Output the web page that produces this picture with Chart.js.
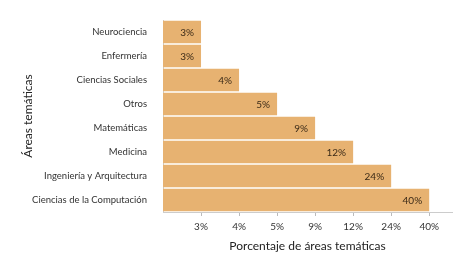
<!DOCTYPE html>
<html>
<head>
<meta charset="utf-8">
<script src="https://cdn.jsdelivr.net/npm/chart.js@4"></script>
<style>
  html, body { margin: 0; padding: 0; background: #fff; }
  #wrap { width: 472px; height: 264px; }
</style>
</head>
<body>
<div id="wrap"><canvas id="c" width="472" height="264"></canvas></div>
<script>
const categories = ['Neurociencia', 'Enfermería', 'Ciencias Sociales', 'Otros', 'Matemáticas', 'Medicina', 'Ingeniería y Arquitectura', 'Ciencias de la Computación'];
const percents = [3, 3, 4, 5, 9, 12, 24, 40];
// the x axis is ordinal: each tick is one step, whatever the percentage
const tickLabels = ['3%', '4%', '5%', '9%', '12%', '24%', '40%'];

const steps = percents.map(p => tickLabels.indexOf(p + '%') + 1);
const font = 'Lato, "Open Sans", sans-serif';

const barLabels = {
  id: 'barLabels',
  afterDatasetsDraw(chart) {
    const ctx = chart.ctx;
    const meta = chart.getDatasetMeta(0);
    ctx.save();
    ctx.font = '10px ' + font;
    ctx.fillStyle = '#3b2a17';
    ctx.textAlign = 'right';
    ctx.textBaseline = 'middle';
    meta.data.forEach((bar, i) => {
      ctx.fillText(percents[i] + '%', bar.x - 7, bar.y + 1);
    });
    ctx.restore();
  }
};

new Chart(document.getElementById('c'), {
  type: 'bar',
  data: {
    labels: categories,
    datasets: [{
      data: steps,
      backgroundColor: '#e7b271',
      borderWidth: 0,
      barPercentage: 0.94,
      categoryPercentage: 1,
    }],
  },
  options: {
    indexAxis: 'y',
    responsive: false,
    animation: false,
    layout: { padding: { top: 20, right: 20, left: 21, bottom: 11 } },
    plugins: { legend: { display: false }, tooltip: { enabled: false } },
    scales: {
      x: {
        min: 0, max: 7.6,
        afterBuildTicks: axis => { axis.ticks = tickLabels.map((t, i) => ({ value: i + 1 })); },
        afterFit: axis => { axis.height = 41; },
        grid: { display: true, drawOnChartArea: false, tickLength: 4, color: '#bbb' },
        border: { color: '#ccc' },
        ticks: {
          callback: v => tickLabels[v - 1],
          font: { family: font, size: 10 }, color: '#333', padding: 5, maxRotation: 0,
        },
        title: { display: true, text: 'Porcentaje de áreas temáticas', font: { family: font, size: 12 }, color: '#222', padding: { top: 0, bottom: 0 } },
      },
      y: {
        afterFit: axis => { axis.width = 142; },
        grid: { display: false },
        border: { color: '#ccc' },
        ticks: { font: { family: font, size: 9.5 }, color: '#333', padding: 8 },
        title: { display: true, text: 'Áreas temáticas', font: { family: font, size: 12 }, color: '#222', padding: { top: 0, bottom: 0 } },
      },
    },
  },
  plugins: [barLabels],
});
</script>
</body>
</html>
